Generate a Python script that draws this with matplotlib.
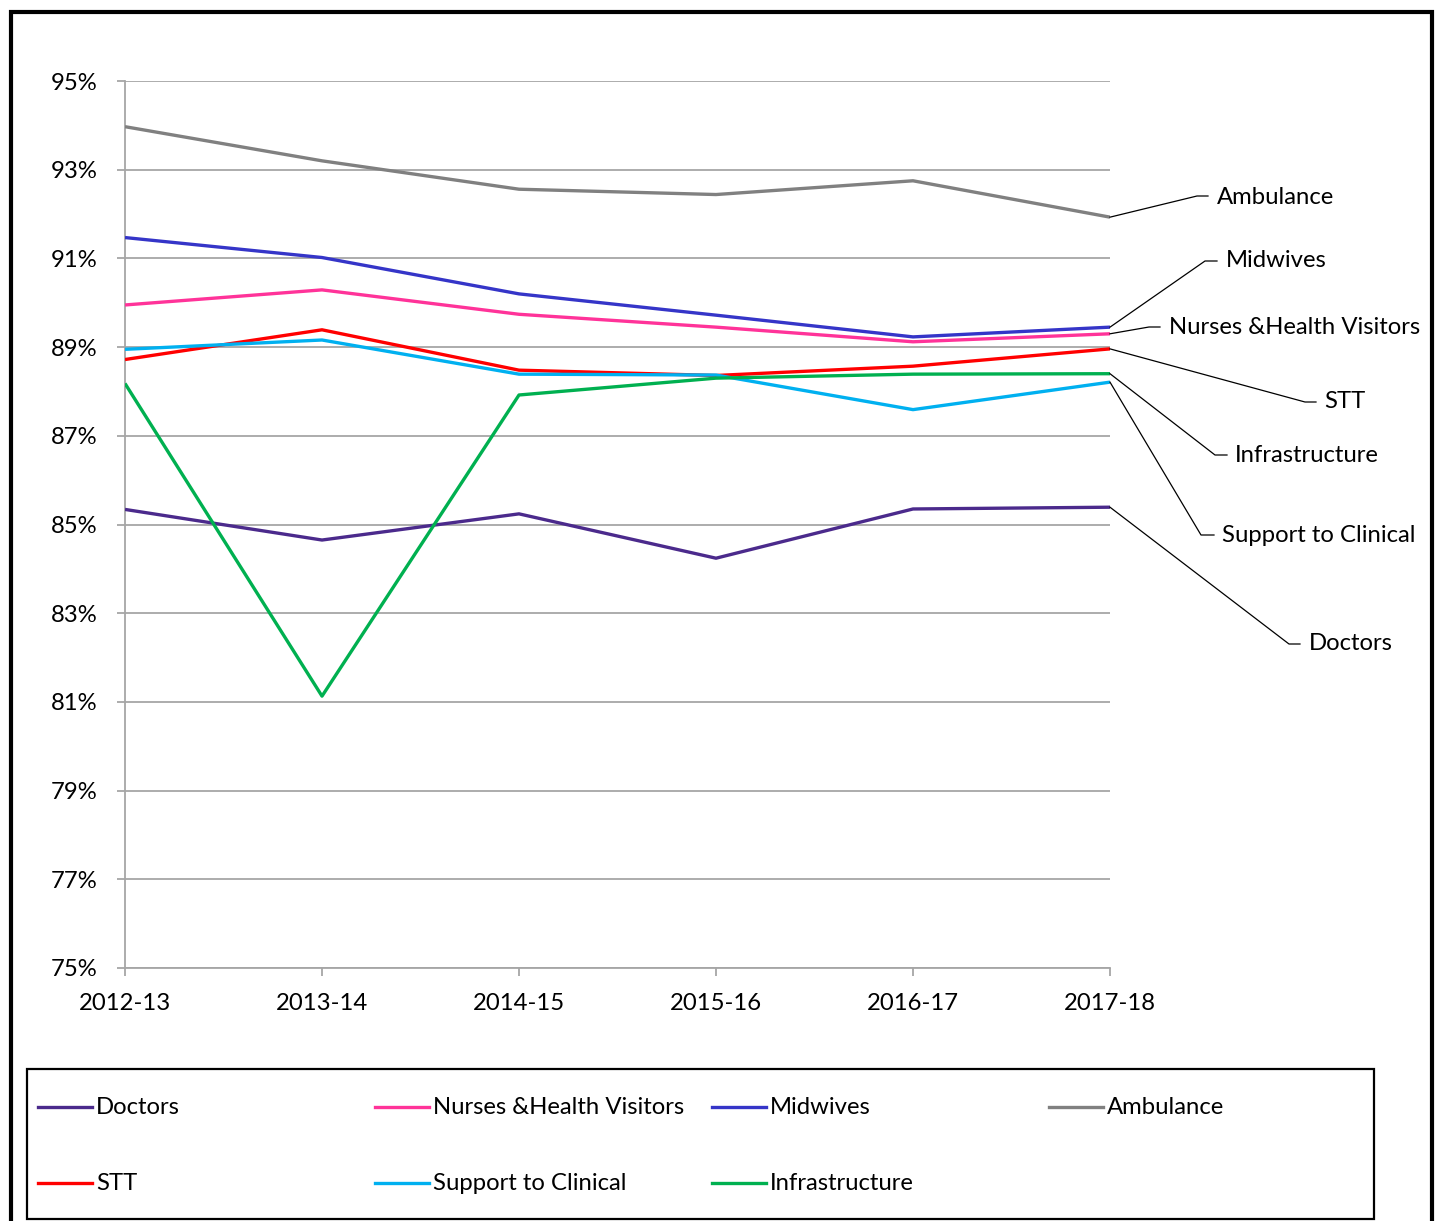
import numpy as np
import matplotlib
matplotlib.use('Agg')
import matplotlib.pyplot as plt
from matplotlib.lines import Line2D
from matplotlib.patches import Rectangle
from matplotlib.ticker import FuncFormatter

plt.rcParams['font.family'] = ['Lato', 'DejaVu Sans']

# ---- data (percent) ----
years = ['2012-13', '2013-14', '2014-15', '2015-16', '2016-17', '2017-18']
doctors = [85.34, 84.65, 85.24, 84.24, 85.35, 85.39]
nurses = [89.95, 90.29, 89.74, 89.45, 89.12, 89.30]
midwives = [91.47, 91.02, 90.20, 89.72, 89.23, 89.45]
ambulance = [93.97, 93.20, 92.56, 92.44, 92.75, 91.93]
stt = [88.72, 89.39, 88.48, 88.36, 88.57, 88.96]
support = [88.95, 89.16, 88.39, 88.37, 87.59, 88.21]
infrastructure = [88.18, 81.13, 87.92, 88.30, 88.39, 88.40]

series = [
    ('Doctors', doctors, '#4B2A8C'),
    ('Nurses &Health Visitors', nurses, '#FF3399'),
    ('Midwives', midwives, '#3535C8'),
    ('Ambulance', ambulance, '#808080'),
    ('STT', stt, '#FF0000'),
    ('Support to Clinical', support, '#00B0F0'),
    ('Infrastructure', infrastructure, '#00B050'),
]

W, H = 1442, 1221
FS = 17.2


def fx(px):
    return px / W


def fy(py):
    return 1 - py / H


fig = plt.figure(figsize=(W / 100, H / 100), dpi=100)
ax = fig.add_axes([fx(125), fy(968), (1110 - 125) / W, (968 - 81) / H])

x = np.arange(len(years))
for name, vals, col in series:
    ax.plot(x, vals, color=col, lw=2.4, solid_capstyle='butt', zorder=3)

grid_col = '#A6A6A6'
ax.set_xlim(0, len(years) - 1)
ax.set_ylim(75, 95)
ax.set_yticks(np.arange(75, 96, 2))
ax.yaxis.set_major_formatter(FuncFormatter(lambda v, p: '%d%%' % v))
ax.set_xticks(x)
ax.set_xticklabels(years)
ax.grid(axis='y', color=grid_col, lw=1.3, zorder=1)
for s in ['top', 'right']:
    ax.spines[s].set_visible(False)
for s in ['left', 'bottom']:
    ax.spines[s].set_color(grid_col)
    ax.spines[s].set_linewidth(1.3)
ax.tick_params(axis='both', colors=grid_col, length=6, width=1.3, labelsize=FS,
               labelcolor='black')
ax.tick_params(axis='y', pad=14)
ax.tick_params(axis='x', pad=12)

# ---- data labels with leader lines (pixel positions of elbows) ----
label_pos = {
    'Ambulance': (1197, 196, 1208, 1217, 197),
    'Midwives': (1205, 261, 1217, 1226, 261),
    'Nurses &Health Visitors': (1149, 327, 1160, 1169, 327),
    'STT': (1305, 402, 1316, 1324, 401),
    'Infrastructure': (1215, 455, 1227, 1235, 455),
    'Support to Clinical': (1201, 535, 1214, 1222, 535),
    'Doctors': (1289, 644, 1300, 1309, 643),
}
fig.canvas.draw()
inv = fig.transFigure.inverted()
for name, vals, col in series:
    ex, ey, hx, tx, ty = label_pos[name]
    p = inv.transform(ax.transData.transform((x[-1], vals[-1])))
    fig.add_artist(Line2D([p[0], fx(ex), fx(hx)], [p[1], fy(ey), fy(ey)],
                          color='black', lw=0.9, zorder=5))
    fig.text(fx(tx), fy(ty), name, fontsize=FS, va='center', ha='left')

# ---- legend box drawn manually ----
fig.add_artist(Rectangle((fx(27), fy(1219)), (1374 - 27) / W, (1219 - 1069) / H,
                         transform=fig.transFigure, fill=False, ec='black', lw=1.6))
rows = [1107, 1183]
cols = [38, 375, 712, 1049]
for i, (name, vals, col) in enumerate(series):
    cx = cols[i % 4]
    cy = rows[i // 4]
    fig.add_artist(Line2D([fx(cx), fx(cx + 54)], [fy(cy), fy(cy)], color=col, lw=2.4))
    fig.text(fx(cx + 58), fy(cy), name, fontsize=FS, va='center', ha='left')

# ---- outer border ----
fig.add_artist(Line2D([fx(11), fx(11), fx(1432), fx(1432)],
                      [fy(1225), fy(12), fy(12), fy(1225)],
                      color='black', lw=3, solid_joinstyle='miter'))

fig.savefig('out.png', dpi=100)
